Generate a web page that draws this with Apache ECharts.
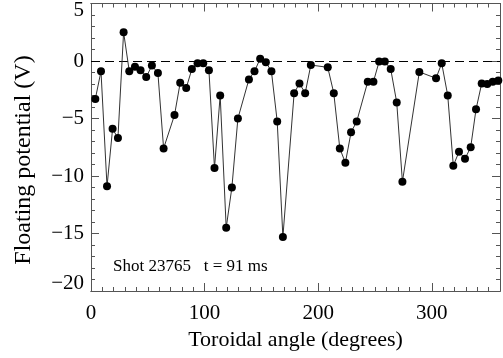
<!DOCTYPE html>
<html>
<head>
<meta charset="utf-8">
<script src="https://cdn.jsdelivr.net/npm/echarts@6/dist/echarts.min.js"></script>
<style>
html,body{margin:0;padding:0;background:#fff;}
#chart{width:503px;height:358px;}
</style>
</head>
<body>
<div id="chart"></div>
<script>
const angles = [3.8, 8.8, 14.1, 19, 23.7, 28.7, 33.7, 38.7, 43.6, 48.6, 53.6, 58.9, 63.9, 73.5, 78.5, 83.8, 88.8, 93.8, 98.8, 103.8, 108.7, 113.7, 119, 124, 129.3, 139, 143.9, 148.9, 153.9, 158.8, 163.9, 168.9, 178.8, 183.5, 188.5, 193.5, 208.4, 213.7, 219, 223.9, 228.9, 233.9, 243.6, 248.6, 253.6, 258.6, 263.8, 269.1, 274.1, 289, 303.7, 308.7, 314, 318.9, 323.9, 329.2, 334.2, 338.9, 343.9, 348.8, 353.6, 358.5];
const potentials = [-3.3, -0.9, -10.9, -5.9, -6.7, 2.5, -0.9, -0.5, -0.8, -1.4, -0.4, -1.05, -7.6, -4.7, -1.9, -2.35, -0.7, -0.2, -0.2, -0.8, -9.3, -3.0, -14.5, -11, -5.0, -1.6, -0.9, 0.2, -0.1, -0.9, -5.25, -15.3, -2.8, -1.95, -2.8, -0.35, -0.55, -2.8, -7.6, -8.85, -6.2, -5.25, -1.8, -1.8, -0.05, -0.05, -0.7, -3.6, -10.5, -0.95, -1.5, -0.2, -3.0, -9.1, -7.9, -8.5, -7.5, -4.2, -1.95, -2.0, -1.8, -1.7];
const referenceLevel = [0];
const xTickLabels = ['0', '100', '200', '300'];
const yTickLabels = ['5', '0', '−5', '−10', '−15', '−20'];
const xTitle = 'Toroidal angle (degrees)';
const yTitle = 'Floating potential (V)';
const annotation = 'Shot 23765   t = 91 ms';

const FONT = '"Liberation Serif", "DejaVu Serif", serif';
const AX = '#555';
const chart = echarts.init(document.getElementById('chart'), null, {renderer: 'canvas'});
const fmtNum = v => String(v).replace('-', '\u2212');

function xAx(pos, interval, len, labels) {
  return {
    type: 'value', position: pos, min: 0, max: 360, interval: interval,
    axisLine: {show: true, onZero: false, lineStyle: {color: AX, width: 1}},
    axisTick: {show: true, inside: true, length: len, lineStyle: {color: AX}},
    splitLine: {show: false},
    axisLabel: labels ? {
      show: true, color: '#000', fontFamily: FONT, fontSize: 21, margin: 12,
      showMaxLabel: false,
      formatter: v => (xTickLabels.indexOf(String(v)) >= 0 ? String(v) : '')
    } : {show: false},
    name: labels ? xTitle : '',
    nameLocation: 'middle', nameGap: 36,
    nameTextStyle: {color: '#000', fontFamily: FONT, fontSize: 22}
  };
}
function yAx(pos, interval, len, labels) {
  return {
    type: 'value', position: pos, min: -20, max: 5, interval: interval,
    axisLine: {show: true, onZero: false, lineStyle: {color: AX, width: 1}},
    axisTick: {show: true, inside: true, length: len, lineStyle: {color: AX}},
    splitLine: {show: false},
    axisLabel: labels ? {
      show: true, color: '#000', fontFamily: FONT, fontSize: 21, margin: 7,
      formatter: v => {
        const s = fmtNum(v);
        if (yTickLabels.indexOf(s) < 0) return '';
        if (v === 5) return '{top|' + s + '}';
        if (v === -20) return '{bot|' + s + '}';
        return s;
      },
      rich: {
        top: {fontFamily: FONT, fontSize: 21, color: '#000', padding: [14, 0, 0, 0]},
        bot: {fontFamily: FONT, fontSize: 21, color: '#000', padding: [0, 0, 15, 0]}
      }
    } : {show: false}
  };
}

chart.setOption({
  animation: false,
  backgroundColor: '#fff',
  grid: {left: 91, right: 3, top: 3, bottom: 67, containLabel: false},
  xAxis: [xAx('bottom', 100, 8, true), xAx('bottom', 10, 4, false), xAx('top', 100, 8, false), xAx('top', 10, 4, false)],
  yAxis: [yAx('left', 5, 8, true), yAx('left', 1, 4, false), yAx('right', 5, 8, false), yAx('right', 1, 4, false)],
  graphic: [
    {type: 'text', left: 113, top: 258, style: {text: annotation, font: '17px ' + FONT, fill: '#000'}},
    {type: 'text', x: 24, y: 160, rotation: Math.PI / 2,
     style: {text: yTitle, font: '24px ' + FONT, fill: '#000', align: 'center', verticalAlign: 'middle'}}
  ],
  series: [{
    type: 'line', xAxisIndex: 0, yAxisIndex: 0,
    data: angles.map((a, i) => [a, potentials[i]]),
    symbol: 'circle', symbolSize: 8,
    itemStyle: {color: '#000'},
    lineStyle: {color: '#333', width: 1},
    markLine: {
      silent: true, symbol: 'none', label: {show: false},
      lineStyle: {color: '#000', type: [9, 5], width: 1},
      data: referenceLevel.map(v => ({yAxis: v}))
    },
    z: 5
  }]
});
</script>
</body>
</html>
